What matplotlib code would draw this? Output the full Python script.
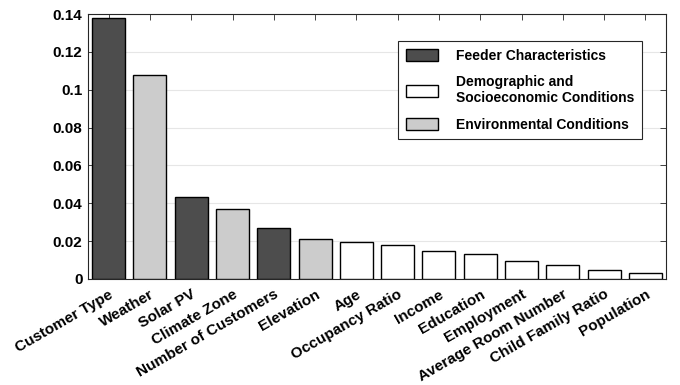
import numpy as np
import matplotlib
matplotlib.use("Agg")
import matplotlib.pyplot as plt
from matplotlib.patches import Patch

plt.rcParams["font.family"] = ["Liberation Sans", "DejaVu Sans"]
plt.rcParams["font.weight"] = "bold"

features = ["Customer Type", "Weather", "Solar PV", "Climate Zone",
            "Number of Customers", "Elevation", "Age", "Occupancy Ratio",
            "Income", "Education", "Employment", "Average Room Number",
            "Child Family Ratio", "Population"]
importance = [0.1377, 0.1079, 0.0435, 0.0370, 0.0269, 0.0211, 0.0194,
              0.0181, 0.0148, 0.0130, 0.0093, 0.0072, 0.0046, 0.0033]
# 0 = feeder, 1 = demographic, 2 = environmental
group = [0, 2, 0, 2, 0, 2, 1, 1, 1, 1, 1, 1, 1, 1]
group_names = ["Feeder Characteristics",
               "Demographic and\nSocioeconomic Conditions",
               "Environmental Conditions"]
group_colors = ["#4d4d4d", "#ffffff", "#cccccc"]

fig = plt.figure(figsize=(6.8, 3.85), dpi=100)
ax = fig.add_axes([88 / 680, 1 - 279 / 385, 578 / 680, 265 / 385])

x = np.arange(1, len(features) + 1)
ax.bar(x, importance, width=0.8, color=[group_colors[g] for g in group],
       edgecolor="black", linewidth=1.0, zorder=3)

ax.set_xlim(0.5, len(features) + 0.5)
ax.set_ylim(0, 0.14)
ax.set_yticks([0, 0.02, 0.04, 0.06, 0.08, 0.1, 0.12, 0.14])
ax.set_yticklabels(["0", "0.02", "0.04", "0.06", "0.08", "0.1", "0.12", "0.14"],
                   fontsize=11, fontweight="bold")
ax.set_xticks(x)
ax.set_xticklabels(features, rotation=30, ha="right", rotation_mode="anchor",
                   fontsize=11, fontweight="bold")
ax.tick_params(direction="in", top=True, right=True, length=4, width=0.6,
               color="#262626", pad=4)
ax.tick_params(axis="x", pad=6)
ax.yaxis.grid(True, color="#e6e6e6", linewidth=0.8, zorder=0)
for s in ax.spines.values():
    s.set_color("#262626")
    s.set_linewidth(0.8)

handles = [Patch(facecolor=c, edgecolor="black", linewidth=1.0) for c in group_colors]
leg = ax.legend(handles, group_names, loc="upper right",
                bbox_to_anchor=(642 / 680, 1 - 41 / 385),
                bbox_transform=fig.transFigure, borderaxespad=0,
                prop={"weight": "bold", "size": 10},
                fancybox=False, edgecolor="#262626", framealpha=1,
                handlelength=2.3, handleheight=0.9, handletextpad=1.3,
                labelspacing=0.9, borderpad=0.55)
leg.get_frame().set_linewidth(0.8)

fig.savefig("out.png", dpi=100)
